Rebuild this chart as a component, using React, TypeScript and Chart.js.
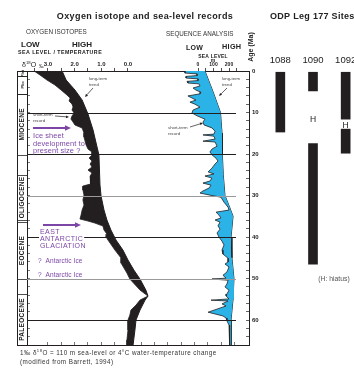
import React, { useEffect, useRef } from 'react';
import { Chart, registerables } from 'chart.js';

Chart.register(...registerables);

const FONT = '"Liberation Sans", Arial, Helvetica, sans-serif';
Chart.defaults.font.family = FONT;

const INK = '#231f20';
const BLUE = '#2bb3e8';
const PURPLE = '#7b46a6';
const GRAY_LINE = '#9a9a9a';

// ---- Oxygen isotope record (age in Ma, δ18O in ‰) ----
const ISO_SHORT_AGE = [0, 0.96, 2.17, 3.37, 4.58, 5.78, 6.51, 7.23, 7.95, 8.67, 9.4, 10.12, 10.84, 11.57, 12.29, 13.01, 13.73, 14.94, 15.9, 16.87, 17.83, 18.8, 19.52, 20.24, 20.96, 21.69, 22.41, 23.13, 23.86, 24.58, 25.3, 26.27, 27.23, 27.71, 28.67, 29.88, 31.08, 32.29, 33.49, 34.7, 35.66, 36.14, 36.63, 37.35, 38.31, 39.28, 40.0, 40.72, 43.13, 45.06, 46.27, 47.47, 48.67, 50.12, 52.77, 54.22, 55.18, 56.39, 57.59, 58.8, 60.0, 62.41, 64.82, 66.0];
const ISO_SHORT_D18O = [3.52, 3.3, 3.04, 2.74, 2.51, 2.29, 2.17, 2.21, 2.1, 2.06, 2.1, 2.02, 2.1, 2.14, 2.06, 1.99, 1.72, 1.65, 1.65, 1.61, 1.57, 1.5, 1.35, 1.35, 1.46, 1.35, 1.42, 1.35, 1.5, 1.35, 1.42, 1.39, 1.42, 1.69, 1.69, 1.65, 1.69, 1.65, 1.72, 1.76, 1.8, 1.5, 1.24, 0.94, 0.9, 0.79, 0.82, 0.75, 0.49, 0.26, 0.26, 0.15, 0.04, -0.07, -0.45, -0.75, -0.45, -0.3, -0.11, -0.07, 0.0, 0.0, 0.04, 0.04];
const ISO_LONG_AGE = [0, 2.17, 4.58, 6.99, 10.36, 14.22, 20.24, 27.47, 30.12, 33.49, 35.9, 38.31, 40.72, 43.13, 45.54, 47.95, 50.12, 52.77, 54.22, 55.18, 57.59, 60.0, 62.41, 66.0];
const ISO_LONG_D18O = [2.47, 2.32, 1.99, 1.72, 1.5, 1.31, 1.09, 1.05, 1.01, 0.9, 0.79, 0.64, 0.45, 0.19, 0.0, -0.22, -0.45, -0.67, -0.75, -0.64, -0.45, -0.3, -0.26, -0.19];

// ---- Sea-level record (age in Ma, metres) ----
const SEA_SHORT_AGE = [0, 0.5, 0.7, 1.1, 1.3, 1.7, 1.9, 2.3, 2.5, 2.9, 3.1, 3.6, 4.1, 4.6, 5.1, 5.5, 6.0, 6.5, 7.0, 7.5, 8.0, 8.7, 9.4, 10.1, 10.8, 11.6, 12.3, 13.0, 13.7, 14.5, 15.2, 15.4, 15.7, 16.4, 16.9, 17.1, 18.1, 18.8, 19.5, 20.2, 21.0, 21.7, 22.4, 23.4, 24.3, 24.8, 25.3, 25.8, 26.5, 27.0, 27.5, 28.2, 28.9, 29.4, 29.9, 30.4, 31.6, 32.8, 33.5, 34.0, 34.7, 35.4, 35.9, 36.4, 37.3, 38.1, 39.0, 40.0, 41.0, 41.9, 43.1, 44.1, 45.1, 46.0, 46.5, 47.2, 48.4, 49.2, 49.9, 50.1, 50.4, 51.3, 52.0, 52.8, 53.7, 54.2, 54.9, 55.2, 55.4, 56.1, 56.6, 58.1, 59.0, 59.5, 60.2, 61.2, 62.4, 64.3, 66.0];
const SEA_SHORT_M = [-84, -84, -6, -6, -77, -77, 0, 0, -71, -65, 6, 13, -32, -13, 19, 13, -65, -39, -13, -52, -19, 13, -32, -39, -6, 45, 32, 39, 90, 110, 103, 32, 103, 110, 32, 110, 123, 90, 77, 90, 116, 129, 110, 90, 65, 103, 45, 90, 77, 32, 84, 71, 32, 13, 77, 148, 168, 194, 200, 116, 135, 148, 110, 142, 129, 142, 123, 135, 155, 168, 155, 161, 194, 194, 174, 200, 187, 161, 181, 90, 194, 187, 174, 200, 187, 181, 200, 84, 194, 155, 181, 65, 161, 181, 187, 200, 206, 200, 206];
const SEA_LONG_AGE = [0, 5, 10, 15, 20, 25, 30, 33, 35, 40, 45, 50, 55, 60, 66];
const SEA_LONG_M = [45, 97, 145, 155, 157, 163, 174, 206, 226, 213, 219, 232, 226, 213, 213];

// ---- axes ----
const ISO_TICKS = [3.5, 3, 2.5, 2, 1.5, 1, 0.5, 0];
const ISO_TICK_LABELS = [3, 2, 1, 0];
const SEA_TICKS = [0, 50, 100, 150, 200, 250];
const SEA_TICK_LABELS = [0, 100, 200];
const AGE_LABEL_STEP = 10;
const AGE_LINES = [10, 20, 30, 40, 50, 60];
const GRAY_AGE_LINES = [30, 50];

// ---- epochs (Ma) ----
const EPOCH_NAMES = ['Plst', 'Plio', 'MIOCENE', 'OLIGOCENE', 'EOCENE', 'PALEOCENE'];
const EPOCH_START = [0, 1.2, 5.5, 25.0, 36.4, 53.7];
const EPOCH_END = [1.2, 5.5, 20.2, 35.9, 50.1, 66.0];

// ---- ODP Leg 177 sites (cored age ranges, Ma) ----
const SITES = ['1088', '1090', '1092'];
const SITE_INTERVAL_1 = [[0.3, 14.7], [0.3, 4.8], [0.3, 11.6]];
const SITE_INTERVAL_2 = [null, [17.5, 46.5], [14.0, 19.8]];
const HIATUS_SITE = ['1090', '1092'];
const HIATUS_AGE = [11.8, 13.2];

const pts = (ages: number[], vals: number[]) => ages.map((a, i) => ({ x: vals[i], y: a }));

function txt(ctx: any, s: string, x: number, y: number, size: number, opts: any = {}) {
  ctx.save();
  ctx.font = `${opts.bold ? 'bold ' : ''}${size}px ${FONT}`;
  ctx.fillStyle = opts.color || '#222';
  ctx.textAlign = opts.align || 'left';
  ctx.textBaseline = 'middle';
  if (opts.ls) ctx.letterSpacing = opts.ls + 'px';
  if (opts.bg) {
    const w = ctx.measureText(s).width;
    const x0 = opts.align === 'center' ? x - w / 2 : x;
    ctx.fillStyle = opts.bg;
    ctx.fillRect(x0 - 1, y - size / 2 - 0.5, w + 2, size + 1);
    ctx.fillStyle = opts.color || '#222';
  }
  ctx.fillText(s, x, y);
  ctx.restore();
}

function rich(ctx: any, parts: any[], x: number, y: number, color: string, ls = 0) {
  ctx.save();
  ctx.fillStyle = color;
  ctx.textAlign = 'left';
  ctx.textBaseline = 'middle';
  ctx.letterSpacing = ls + 'px';
  let cx = x;
  for (const p of parts) {
    ctx.font = `${p.bold ? 'bold ' : ''}${p.size}px ${FONT}`;
    ctx.fillText(p.t, cx, y + (p.dy || 0));
    cx += ctx.measureText(p.t).width;
  }
  ctx.restore();
}

function arrow(ctx: any, x1: number, y1: number, x2: number, y2: number, color: string, w: number, head: number) {
  ctx.save();
  ctx.strokeStyle = color;
  ctx.fillStyle = color;
  ctx.lineWidth = w;
  const a = Math.atan2(y2 - y1, x2 - x1);
  const bx = x2 - head * Math.cos(a);
  const by = y2 - head * Math.sin(a);
  ctx.beginPath();
  ctx.moveTo(x1, y1);
  ctx.lineTo(bx, by);
  ctx.stroke();
  ctx.beginPath();
  ctx.moveTo(x2, y2);
  ctx.lineTo(bx + head * 0.45 * Math.sin(a), by - head * 0.45 * Math.cos(a));
  ctx.lineTo(bx - head * 0.45 * Math.sin(a), by + head * 0.45 * Math.cos(a));
  ctx.closePath();
  ctx.fill();
  ctx.restore();
}

const decorPlugin = {
  id: 'decor',
  afterDatasetsDraw(chart: any) {
    const ctx = chart.ctx;
    const ys = chart.scales.age;
    const { left, right } = chart.chartArea;
    ctx.save();
    AGE_LINES.forEach((a) => {
      const y = Math.round(ys.getPixelForValue(a)) + 0.5;
      ctx.strokeStyle = GRAY_AGE_LINES.includes(a) ? GRAY_LINE : INK;
      ctx.lineWidth = 1;
      ctx.beginPath();
      ctx.moveTo(left, y);
      ctx.lineTo(right - 13, y);
      ctx.stroke();
    });
    ctx.restore();
  },
  afterDraw(chart: any) {
    const ctx = chart.ctx;
    const ys = chart.scales.ageL;
    const { left, top, bottom } = chart.chartArea;
    const colL = left - 10;

    // epoch column
    ctx.save();
    ctx.strokeStyle = INK;
    ctx.lineWidth = 1;
    ctx.beginPath();
    ctx.moveTo(colL + 0.5, top);
    ctx.lineTo(colL + 0.5, bottom);
    ctx.moveTo(colL, top + 0.5);
    ctx.lineTo(left, top + 0.5);
    ctx.moveTo(colL, bottom + 0.5);
    ctx.lineTo(left, bottom + 0.5);
    ctx.stroke();
    EPOCH_NAMES.forEach((name, i) => {
      const y0 = ys.getPixelForValue(EPOCH_START[i]);
      const y1 = ys.getPixelForValue(EPOCH_END[i]);
      ctx.strokeStyle = INK;
      ctx.lineWidth = 0.8;
      ctx.beginPath();
      ctx.moveTo(colL, Math.round(y0) + 0.5);
      ctx.lineTo(left, Math.round(y0) + 0.5);
      ctx.moveTo(colL, Math.round(y1) + 0.5);
      ctx.lineTo(left, Math.round(y1) + 0.5);
      ctx.stroke();
      ctx.save();
      ctx.translate(colL + 5.5, (y0 + y1) / 2);
      ctx.rotate(-Math.PI / 2);
      const small = name.length <= 4;
      ctx.font = `bold ${small ? 4 : 6.5}px ${FONT}`;
      ctx.letterSpacing = small ? '0px' : '0.3px';
      ctx.fillStyle = '#222';
      ctx.textAlign = 'center';
      ctx.textBaseline = 'middle';
      ctx.fillText(name, 0, 0);
      ctx.restore();
    });
    ctx.restore();

    // headings
    txt(ctx, 'Oxygen isotope and sea-level records', 145, 17, 9, { bold: true, align: 'center', ls: 0.4 });
    txt(ctx, 'OXYGEN ISOTOPES', 26, 32, 6.3, { color: '#333' });
    txt(ctx, 'SEQUENCE ANALYSIS', 166, 34, 6.3, { color: '#333' });
    txt(ctx, 'LOW', 21, 45, 8, { bold: true });
    txt(ctx, 'HIGH', 72, 45, 8, { bold: true });
    txt(ctx, 'SEA LEVEL / TEMPERATURE', 18, 53, 5.3, { bold: true, ls: 0.45 });
    txt(ctx, 'LOW', 186, 48, 7, { bold: true, ls: 0.3 });
    txt(ctx, 'HIGH', 222, 47, 7.3, { bold: true, ls: 0.3 });
    txt(ctx, 'SEA LEVEL', 213, 57, 5, { bold: true, align: 'center', ls: 0.2 });
    txt(ctx, 'm', 213, 61, 5, { bold: true, align: 'center' });
    rich(ctx, [{ t: 'δ', size: 7 }, { t: '18', size: 4.3, dy: -2 }, { t: 'O', size: 7 }], 22, 65, '#222');
    txt(ctx, '‰', 39, 67, 4.5);

    // Age (Ma)
    ctx.save();
    ctx.translate(251, 47);
    ctx.rotate(-Math.PI / 2);
    ctx.font = `bold 7px ${FONT}`;
    ctx.fillStyle = '#222';
    ctx.textAlign = 'center';
    ctx.textBaseline = 'middle';
    ctx.fillText('Age (Ma)', 0, 0);
    ctx.restore();

    // curve annotations
    txt(ctx, 'long-term', 89, 79, 4.3, { color: '#444' });
    txt(ctx, 'trend', 89, 84.5, 4.3, { color: '#444' });
    arrow(ctx, 93, 88, 85, 97, INK, 0.7, 3);
    txt(ctx, 'short-term', 33, 115, 4.3, { color: '#444' });
    txt(ctx, 'record', 33, 120.5, 4.3, { color: '#444' });
    arrow(ctx, 55, 116, 69, 117, INK, 0.7, 3);
    txt(ctx, 'long-term', 222, 79, 4.3, { color: '#444' });
    txt(ctx, 'trend', 222, 84.5, 4.3, { color: '#444' });
    arrow(ctx, 227, 88, 219, 96, INK, 0.7, 3);
    txt(ctx, 'short-term', 168, 128, 4.3, { color: '#444' });
    txt(ctx, 'record', 168, 133.5, 4.3, { color: '#444' });
    arrow(ctx, 190, 127, 203, 123, INK, 0.7, 3);

    // ice sheet annotations
    arrow(ctx, 33, 128, 71, 128, PURPLE, 2, 6);
    txt(ctx, 'Ice sheet', 33, 136, 7.4, { color: PURPLE, ls: 0.1 });
    txt(ctx, 'development to', 33, 143.5, 7.4, { color: PURPLE, ls: 0.1 });
    txt(ctx, 'present size ?', 33, 151, 7.4, { color: PURPLE, ls: 0.1 });
    arrow(ctx, 43, 225, 81, 225, PURPLE, 2, 6);
    txt(ctx, 'EAST', 40, 232, 7, { color: PURPLE, ls: 0.4 });
    txt(ctx, 'ANTARCTIC', 40, 239, 7, { color: PURPLE, ls: 0.4, bg: '#fff' });
    txt(ctx, 'GLACIATION', 40, 246.5, 7, { color: PURPLE, ls: 0.4 });
    txt(ctx, '?  Antarctic Ice', 38, 261, 6.5, { color: PURPLE, ls: 0.1 });
    txt(ctx, '?  Antarctic Ice', 38, 275, 6.5, { color: PURPLE, ls: 0.1 });

    // footnote
    rich(ctx, [{ t: '1‰ δ', size: 6.3 }, { t: '18', size: 4.2, dy: -2 }, { t: 'O = 110 m sea-level or 4°C water-temperature change', size: 6.3 }], 20, 353, '#333', 0.45);
    txt(ctx, '(modified from Barrett, 1994)', 20, 362, 6.3, { color: '#333', ls: 0.45 });
  },
};

const odpPlugin = {
  id: 'odp',
  afterDraw(chart: any) {
    const ctx = chart.ctx;
    const xs = chart.scales.x;
    const ys = chart.scales.y;
    txt(ctx, 'ODP Leg 177 Sites', 8, 17, 9, { bold: true, ls: 0.3 });
    HIATUS_SITE.forEach((s, i) => {
      const x = xs.getPixelForValue(SITES.indexOf(s));
      txt(ctx, 'H', x, ys.getPixelForValue(HIATUS_AGE[i]), 8.5, { align: 'center', color: '#222' });
    });
    txt(ctx, '(H: hiatus)', 72, 279, 6.8, { align: 'center', color: '#555' });
  },
};

function mainConfig(): any {
  return {
    type: 'line',
    data: {
      datasets: [
        { label: 'δ18O short-term', data: pts(ISO_SHORT_AGE, ISO_SHORT_D18O), xAxisID: 'iso', yAxisID: 'age', borderColor: INK, borderWidth: 0.8, backgroundColor: INK, fill: '+1', pointRadius: 0 },
        { label: 'δ18O long-term', data: pts(ISO_LONG_AGE, ISO_LONG_D18O), xAxisID: 'iso', yAxisID: 'age', borderColor: INK, borderWidth: 1, fill: false, pointRadius: 0 },
        { label: 'sea level short-term', data: pts(SEA_SHORT_AGE, SEA_SHORT_M), xAxisID: 'sea', yAxisID: 'age', borderColor: INK, borderWidth: 0.8, backgroundColor: BLUE, fill: '+1', pointRadius: 0 },
        { label: 'sea level long-term', data: pts(SEA_LONG_AGE, SEA_LONG_M), xAxisID: 'sea', yAxisID: 'age', borderColor: INK, borderWidth: 1, fill: false, pointRadius: 0 },
      ],
    },
    options: {
      indexAxis: 'y',
      animation: false,
      responsive: false,
      maintainAspectRatio: false,
      layout: { padding: { left: 17, right: 0, top: 0, bottom: 23 } },
      plugins: { legend: { display: false }, tooltip: { enabled: false } },
      scales: {
        iso: {
          type: 'linear', axis: 'x', position: 'top', stack: 'top', stackWeight: 133, weight: 1,
          min: -1.2, max: 3.787, reverse: true,
          afterBuildTicks: (s: any) => { s.ticks = ISO_TICKS.map((value) => ({ value })); },
          afterFit: (s: any) => { s.height = 71; },
          ticks: {
            autoSkip: false, maxRotation: 0, padding: 0, color: '#222',
            font: { family: FONT, size: 6, weight: 'bold' },
            callback: (v: number) => (ISO_TICK_LABELS.includes(v) ? v.toFixed(1) : ''),
          },
          grid: { drawOnChartArea: false, drawTicks: true, tickLength: 3, color: INK, lineWidth: 0.8 },
          border: { display: true, color: INK, width: 1 },
        },
        sea: {
          type: 'linear', axis: 'x', position: 'top', stack: 'top', stackWeight: 89, weight: 0,
          min: -245.2, max: 329,
          afterBuildTicks: (s: any) => { s.ticks = SEA_TICKS.map((value) => ({ value })); },
          afterFit: (s: any) => { s.height = 71; },
          ticks: {
            autoSkip: false, maxRotation: 0, padding: 0, color: '#222',
            font: { family: FONT, size: 5, weight: 'bold' },
            callback: (v: number) => (SEA_TICK_LABELS.includes(v) ? String(v) : ''),
          },
          grid: { drawOnChartArea: false, drawTicks: true, tickLength: 3, color: INK, lineWidth: 0.8 },
          border: { display: true, color: INK, width: 1 },
        },
        isoB: {
          type: 'linear', axis: 'x', position: 'bottom', min: -4.538, max: 3.787, reverse: true,
          afterFit: (s: any) => { s.height = 0; },
          ticks: { display: false, stepSize: 0.5 },
          grid: { drawOnChartArea: false, drawTicks: true, tickLength: -3, color: INK, lineWidth: 0.6 },
          border: { display: true, color: INK, width: 1 },
        },
        age: {
          type: 'linear', axis: 'y', position: 'right', min: 0, max: 66, reverse: true,
          afterFit: (s: any) => { s.width = 16; },
          ticks: {
            stepSize: 2, autoSkip: false, padding: 6, color: '#222',
            font: { family: FONT, size: 6, weight: 'bold' },
            callback: (v: number) => (v % AGE_LABEL_STEP === 0 ? String(v) : ''),
          },
          grid: { drawOnChartArea: false, drawTicks: true, tickLength: -3, color: INK, lineWidth: 0.7 },
          border: { display: true, color: INK, width: 1 },
        },
        ageL: {
          type: 'linear', axis: 'y', position: 'left', min: 0, max: 66, reverse: true,
          afterFit: (s: any) => { s.width = 10; },
          ticks: { display: false, stepSize: 2 },
          grid: { drawOnChartArea: false, drawTicks: true, tickLength: -3, color: INK, lineWidth: 0.6 },
          border: { display: true, color: INK, width: 1 },
        },
      },
    },
    plugins: [decorPlugin],
  };
}

function odpConfig(): any {
  return {
    type: 'bar',
    data: {
      labels: SITES,
      datasets: [
        { label: 'cored interval', data: SITE_INTERVAL_1, backgroundColor: INK, barThickness: 9, grouped: false },
        { label: 'cored interval 2', data: SITE_INTERVAL_2, backgroundColor: INK, barThickness: 9, grouped: false },
      ],
    },
    options: {
      animation: false,
      responsive: false,
      maintainAspectRatio: false,
      layout: { padding: { left: 2, right: 0, top: 0, bottom: 23 } },
      plugins: { legend: { display: false }, tooltip: { enabled: false } },
      scales: {
        x: {
          position: 'top',
          afterFit: (s: any) => { s.height = 71; },
          grid: { display: false, drawTicks: false },
          border: { display: false },
          ticks: { padding: 5, color: '#222', font: { family: FONT, size: 9.5 } },
        },
        y: { type: 'linear', min: 0, max: 66, reverse: true, display: false },
      },
    },
    plugins: [odpPlugin],
  };
}

export default function App() {
  const mainRef = useRef<HTMLCanvasElement>(null);
  const odpRef = useRef<HTMLCanvasElement>(null);
  useEffect(() => {
    const c1 = new Chart(mainRef.current as HTMLCanvasElement, mainConfig());
    const c2 = new Chart(odpRef.current as HTMLCanvasElement, odpConfig());
    return () => {
      c1.destroy();
      c2.destroy();
    };
  }, []);
  return (
    <div style={{ position: 'fixed', left: 0, top: 0, width: 354, height: 368, overflow: 'hidden', background: '#fff' }}>
      <canvas ref={mainRef} width={265} height={368} style={{ position: 'absolute', left: 0, top: 0, width: 265, height: 368 }} />
      <canvas ref={odpRef} width={100} height={368} style={{ position: 'absolute', left: 262, top: 0, width: 100, height: 368 }} />
    </div>
  );
}
